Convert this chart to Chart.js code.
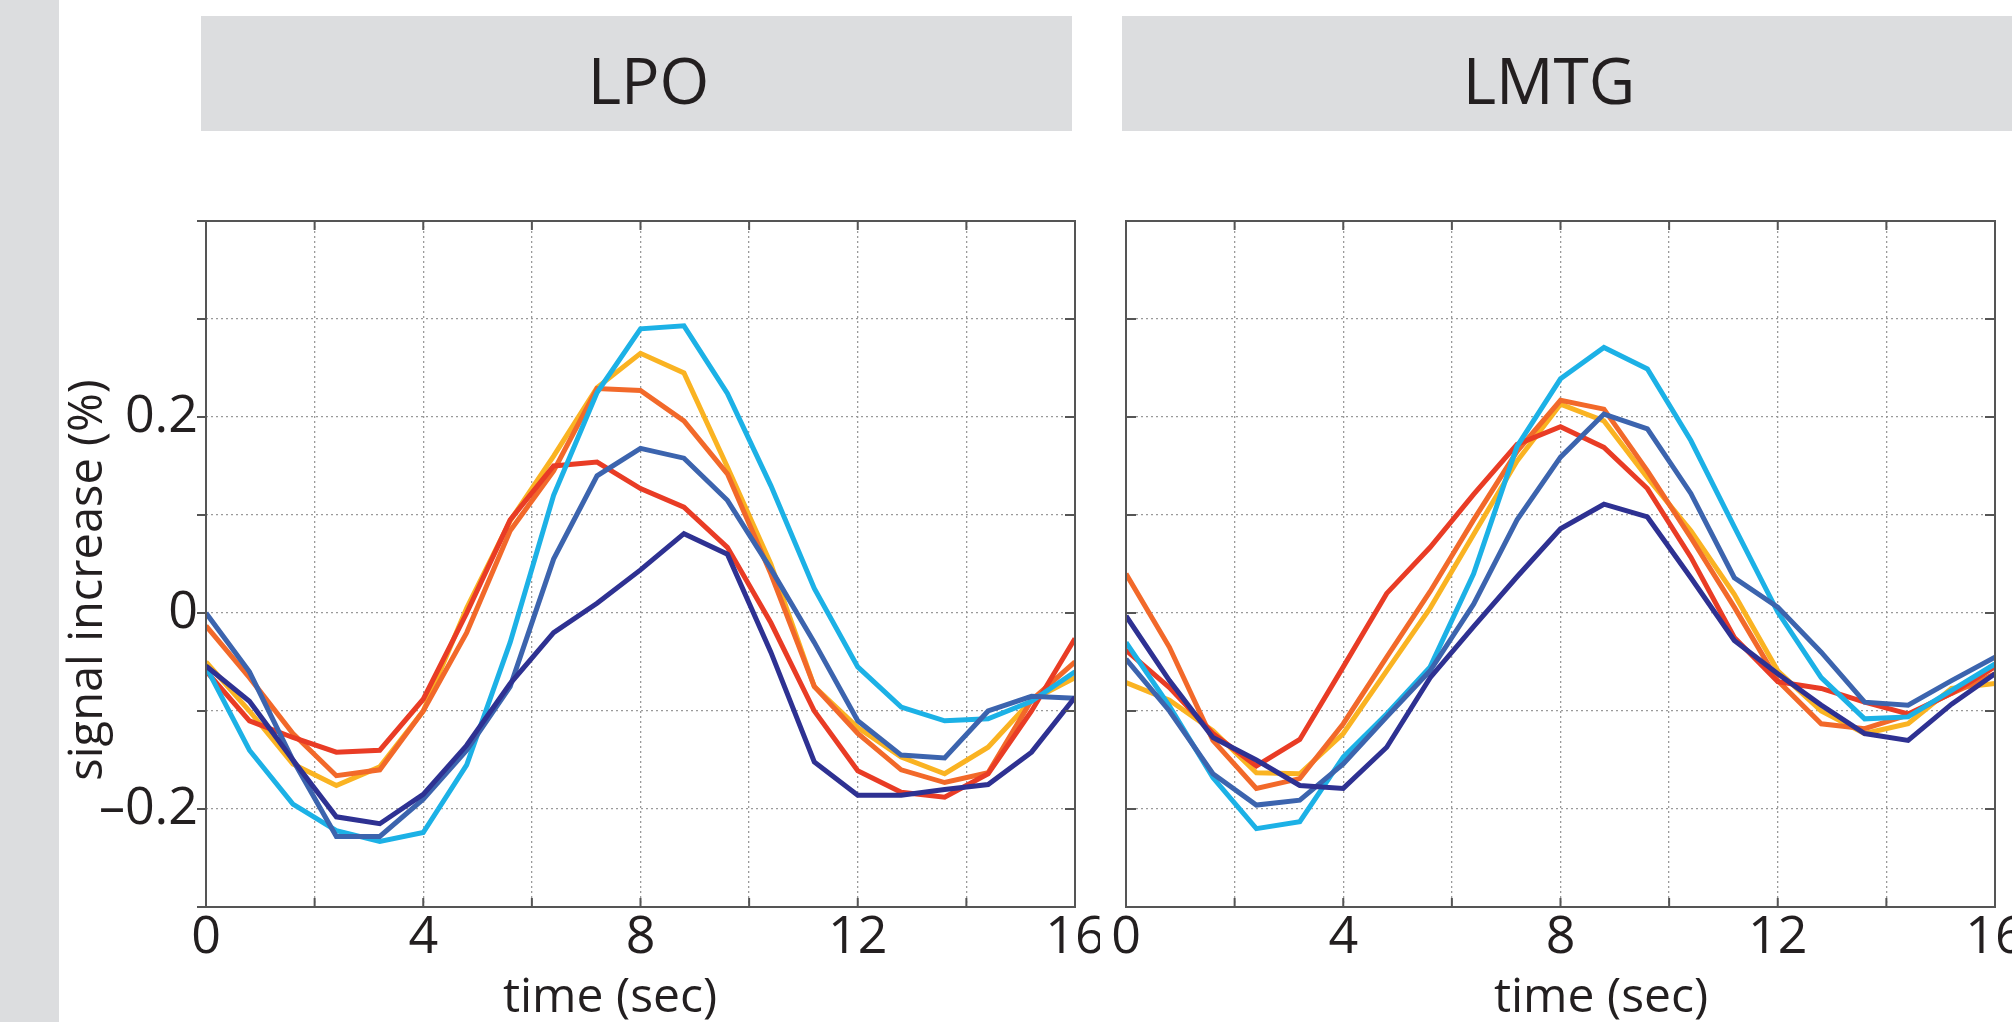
<!DOCTYPE html>
<html>
<head>
<meta charset="utf-8">
<title>LPO / LMTG signal increase</title>
<script src="https://cdn.jsdelivr.net/npm/chart.js@4.4.1/dist/chart.umd.min.js"></script>
<style>
  body { margin: 0; width: 2012px; height: 1022px; background: #fff; position: relative; overflow: hidden;
         font-family: 'Open Sans', sans-serif; color: #231f20; }
  .strip { position: absolute; left: 0; top: 0; width: 59px; height: 1022px; background: #dcdddf; }
  .head { position: absolute; top: 16px; height: 115px; background: #dcdddf; box-sizing: border-box;
          font-size: 64px; line-height: 115px; text-align: center; padding-top: 6px; }
  #lpoHead { left: 201px; width: 871px; padding-left: 24px; }
  #lmtgHead { left: 1122px; width: 890px; padding-right: 36px; }
  canvas { position: absolute; top: 0; }
  #lpoChart { left: 0; }
  #lmtgChart { left: 1100px; }
</style>
</head>
<body>
<div class="strip"></div>
<div class="head" id="lpoHead">LPO</div>
<div class="head" id="lmtgHead">LMTG</div>
<canvas id="lpoChart" width="1100" height="1022"></canvas>
<canvas id="lmtgChart" width="912" height="1022"></canvas>

<script>
// sample times (sec), one volume every 0.8 s
const time = [0, 0.8, 1.6, 2.4, 3.2, 4, 4.8, 5.6, 6.4, 7.2, 8, 8.8, 9.6, 10.4, 11.2, 12, 12.8, 13.6, 14.4, 15.2, 16];

const xTickLabels = [0, 4, 8, 12, 16];
const yTickLabels = { '-2': '\u20130.2', '0': '0', '2': '0.2' }; // keyed by value*10
const xTitle = 'time (sec)';
const yTitle = 'signal increase (%)';

const colors = ['#2e3192', '#3c64ae', '#1cb1e6', '#e93c25', '#f2692a', '#fab322'];

// LPO
const lpoNavy   = [-0.054, -0.09, -0.15, -0.208, -0.215, -0.185, -0.135, -0.072, -0.02, 0.01, 0.044, 0.081, 0.06, -0.04, -0.152, -0.186, -0.186, -0.18, -0.175, -0.142, -0.086];
const lpoBlue   = [0.0, -0.06, -0.15, -0.228, -0.228, -0.19, -0.14, -0.075, 0.055, 0.14, 0.168, 0.158, 0.115, 0.045, -0.03, -0.11, -0.145, -0.148, -0.10, -0.085, -0.087];
const lpoCyan   = [-0.055, -0.14, -0.195, -0.222, -0.233, -0.224, -0.155, -0.03, 0.12, 0.225, 0.29, 0.293, 0.224, 0.13, 0.025, -0.055, -0.096, -0.11, -0.108, -0.09, -0.06];
const lpoRed    = [-0.059, -0.11, -0.127, -0.142, -0.14, -0.088, 0.0, 0.095, 0.15, 0.154, 0.127, 0.108, 0.067, -0.01, -0.1, -0.161, -0.183, -0.188, -0.164, -0.1, -0.026];
const lpoOrange = [-0.013, -0.066, -0.123, -0.166, -0.16, -0.1, -0.02, 0.084, 0.145, 0.229, 0.227, 0.196, 0.142, 0.04, -0.075, -0.123, -0.16, -0.173, -0.163, -0.089, -0.05];
const lpoYellow = [-0.05, -0.1, -0.154, -0.176, -0.157, -0.1, 0.005, 0.094, 0.16, 0.23, 0.265, 0.245, 0.149, 0.05, -0.075, -0.117, -0.147, -0.164, -0.137, -0.089, -0.066];

// LMTG
const lmtgNavy   = [-0.003, -0.069, -0.127, -0.15, -0.176, -0.179, -0.137, -0.066, -0.014, 0.037, 0.086, 0.111, 0.098, 0.036, -0.028, -0.062, -0.094, -0.123, -0.13, -0.093, -0.062];
const lmtgBlue   = [-0.047, -0.1, -0.164, -0.196, -0.191, -0.154, -0.106, -0.059, 0.009, 0.095, 0.159, 0.203, 0.188, 0.122, 0.036, 0.006, -0.04, -0.091, -0.094, -0.069, -0.045];
const lmtgCyan   = [-0.03, -0.095, -0.168, -0.22, -0.213, -0.147, -0.103, -0.055, 0.04, 0.17, 0.239, 0.271, 0.249, 0.176, 0.088, 0.001, -0.066, -0.108, -0.106, -0.079, -0.052];
const lmtgRed    = [-0.038, -0.076, -0.123, -0.156, -0.129, -0.055, 0.02, 0.067, 0.121, 0.172, 0.19, 0.169, 0.127, 0.057, -0.025, -0.07, -0.077, -0.091, -0.103, -0.082, -0.055];
const lmtgOrange = [0.04, -0.035, -0.13, -0.179, -0.169, -0.113, -0.045, 0.022, 0.095, 0.165, 0.217, 0.208, 0.145, 0.077, 0.006, -0.069, -0.113, -0.118, -0.104, -0.082, -0.062];
const lmtgYellow = [-0.071, -0.089, -0.12, -0.163, -0.164, -0.123, -0.059, 0.005, 0.08, 0.155, 0.213, 0.196, 0.138, 0.084, 0.019, -0.059, -0.1, -0.123, -0.113, -0.077, -0.072];

Chart.defaults.font.family = "'Open Sans', sans-serif";
Chart.defaults.color = '#231f20';

// box round the plot, MATLAB style inner ticks, and the axis titles
const framePlugin = {
  id: 'frame',
  afterDraw(chart, args, opts) {
    const { ctx, chartArea: a } = chart;
    const x = chart.scales.x, y = chart.scales.y;
    ctx.save();
    ctx.strokeStyle = '#555';
    ctx.lineWidth = 2;
    ctx.strokeRect(a.left, a.top, a.right - a.left, a.bottom - a.top);
    ctx.beginPath();
    x.ticks.forEach(t => {
      const px = x.getPixelForValue(t.value);
      ctx.moveTo(px, a.bottom); ctx.lineTo(px, a.bottom - 9);
      ctx.moveTo(px, a.top); ctx.lineTo(px, a.top + 9);
    });
    y.ticks.forEach(t => {
      const py = y.getPixelForValue(t.value);
      ctx.moveTo(a.right, py); ctx.lineTo(a.right - 10, py);
      if (opts.outerLeft) { ctx.moveTo(a.left, py); ctx.lineTo(a.left - 9, py); }
      else { ctx.moveTo(a.left, py); ctx.lineTo(a.left + 10, py); }
    });
    ctx.stroke();

    ctx.fillStyle = '#231f20';
    ctx.textAlign = 'center';
    ctx.textBaseline = 'middle';
    ctx.font = "48px 'Open Sans'";
    ctx.fillText(xTitle, opts.xTitleX, 998);
    if (opts.yTitleX) {
      ctx.translate(opts.yTitleX, 580);
      ctx.rotate(-Math.PI / 2);
      ctx.font = "47px 'Open Sans'";
      ctx.fillText(yTitle, 0, 0);
    }
    ctx.restore();
  }
};

function makePanel(id, series, cfg) {
  const datasets = series.map((vals, i) => ({
    data: vals.map((v, j) => ({ x: time[j], y: v })),
    borderColor: colors[i],
    borderWidth: 5,
    pointRadius: 0,
    tension: 0,
    fill: false
  }));

  return new Chart(document.getElementById(id), {
    type: 'line',
    data: { datasets },
    plugins: [framePlugin],
    options: {
      responsive: false,
      animation: false,
      layout: { padding: { top: 221, right: cfg.padRight, bottom: 0, left: 0 } },
      plugins: {
        legend: { display: false },
        tooltip: { enabled: false },
        frame: { outerLeft: cfg.showY, xTitleX: cfg.xTitleX, yTitleX: cfg.yTitleX }
      },
      scales: {
        x: {
          type: 'linear', min: 0, max: 16,
          afterFit: s => { s.height = 115; s.paddingLeft = 0; s.paddingRight = 0; },
          ticks: {
            stepSize: 2, padding: 0, maxRotation: 0, autoSkip: false,
            font: { size: 52 },
            callback: v => (xTickLabels.includes(v) ? String(v) : '')
          },
          grid: { color: '#9a9a9a', lineWidth: 1.3, drawTicks: false },
          border: { display: false, dash: [2, 3] }
        },
        y: {
          min: -0.3, max: 0.4,
          afterFit: s => { s.width = cfg.axisWidth; s.paddingTop = 0; s.paddingBottom = 0; },
          ticks: {
            display: cfg.showY, stepSize: 0.1, padding: 8,
            font: { size: 52 },
            callback: v => yTickLabels[String(Math.round(v * 10))] || ''
          },
          grid: { color: '#9a9a9a', lineWidth: 1.3, drawTicks: false },
          border: { display: false, dash: [2, 3] }
        }
      }
    }
  });
}

makePanel('lpoChart', [lpoNavy, lpoBlue, lpoCyan, lpoRed, lpoOrange, lpoYellow],
  { showY: true, axisWidth: 206, padRight: 25, xTitleX: 610, yTitleX: 89 });
makePanel('lmtgChart', [lmtgNavy, lmtgBlue, lmtgCyan, lmtgRed, lmtgOrange, lmtgYellow],
  { showY: false, axisWidth: 26, padRight: 17, xTitleX: 501, yTitleX: 0 });
</script>
</body>
</html>
